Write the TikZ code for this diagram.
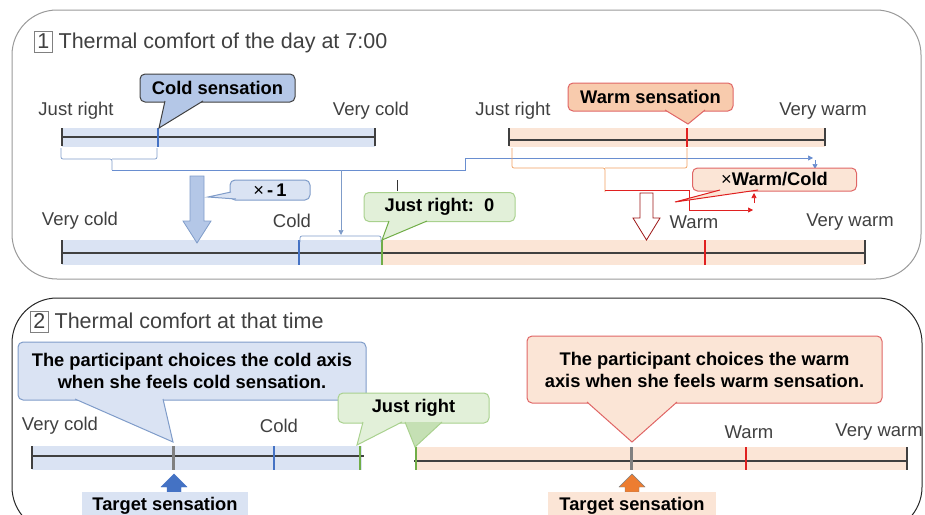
\documentclass[tikz,border=0pt]{standalone}
\usepackage{fontspec}
\setmainfont{Liberation Sans}
\usepackage{xcolor}
\usetikzlibrary{arrows.meta}

\definecolor{coldfill}{HTML}{DAE3F3}
\definecolor{colddark}{HTML}{B4C7E7}
\definecolor{coldline}{HTML}{4472C4}
\definecolor{coldedge}{HTML}{7F9CC9}
\definecolor{warmfill}{HTML}{FBE5D6}
\definecolor{warmdark}{HTML}{F8CBAD}
\definecolor{warmline}{HTML}{E02020}
\definecolor{warmedge}{HTML}{E06666}
\definecolor{braceorange}{HTML}{F0A060}
\definecolor{okfill}{HTML}{E2F0D9}
\definecolor{okdark}{HTML}{C5E0B4}
\definecolor{okline}{HTML}{70AD47}
\definecolor{okedge}{HTML}{A9D18E}
\definecolor{txtgray}{HTML}{404040}
\definecolor{arroworange}{HTML}{ED7D31}

\newcommand{\numbox}[1]{{\setlength{\fboxsep}{0.8pt}\setlength{\fboxrule}{0.7pt}\fcolorbox{black!50}{white}{\makebox[0.72em]{\rule[-0.12em]{0pt}{0.86em}#1}}}}

\tikzset{
  lbl/.style={font=\fontsize{18.5}{21}\selectfont, text=txtgray, inner sep=0pt},
  titlelbl/.style={font=\fontsize{21.5}{24}\selectfont, text=txtgray, inner sep=0pt},
  callbox/.style={rounded corners=5pt, line width=1pt, inner sep=0pt, align=center,
    font=\fontsize{18.3}{22}\selectfont\bfseries, text=black},
  axis/.style={line width=1.2pt, draw=black!75},
  tickmark/.style={line width=2.2pt},
  thinln/.style={line width=0.7pt},
  tinyarrow/.style={-{Triangle[length=5pt,width=5pt]}},
}

% pointer of a callout: fill, edge colour, base, base, tip
\newcommand{\pointer}[5]{%
  \fill[#1] #3 -- #5 -- #4 -- cycle;
  \draw[#2, line width=1pt] #3 -- #5 -- #4;}

\begin{document}
\begin{tikzpicture}[x=1pt,y=-1pt]
\useasboundingbox (0,0) rectangle (925,514);

% ---------- panel 1 ----------
\draw[black!40, line width=1pt, rounded corners=45pt] (12,10) rectangle (921,279);
\node[titlelbl, anchor=west] (title1) at (34,42) {\numbox{1} Thermal comfort of the day at 7:00};

% cold axis (top)
\fill[coldfill] (62,128) rectangle (375,147);
\draw[axis] (62,137) -- (375,137);
\foreach \x in {62,375} \draw[axis] (\x,128) -- (\x,146);
\draw[tickmark, coldline] (158,128) -- (158,147);
\node[lbl] (jr1) at (76,111) {Just right};
\node[lbl] (vc1) at (371,111) {Very cold};

% warm axis (top)
\fill[warmfill] (509,128) rectangle (825,147);
\draw[axis] (509,140) -- (825,140);
\foreach \x in {509,825} \draw[axis] (\x,128) -- (\x,146);
\draw[tickmark, warmline] (687,128) -- (687,147);
\node[lbl] (jr2) at (513,111) {Just right};
\node[lbl] (vw1) at (823,111) {Very warm};

% combined axis (bottom)
\fill[coldfill] (62,240) rectangle (382,265);
\fill[warmfill] (382,240) rectangle (865,265);
\draw[axis] (62,253) -- (865,253);
\foreach \x in {62,865} \draw[axis] (\x,240) -- (\x,264);
\draw[tickmark, coldline] (299,240) -- (299,265);
\draw[tickmark, okline] (382,240) -- (382,265);
\draw[tickmark, warmline] (705,240) -- (705,265);
\node[lbl] (vc2) at (80,221) {Very cold};
\node[lbl] (c2) at (292,221) {Cold};
\node[lbl] (w2) at (694,222) {Warm};
\node[lbl] (vw2) at (850,222) {Very warm};

% braces and guide lines
\draw[thinln, coldedge, rounded corners=2pt] (61,148) |- (112,159) -- (112,170);
\draw[thinln, coldedge, rounded corners=2pt] (157,148) |- (112,159);
\coordinate (bend1) at (112,170);
\coordinate (bend2) at (465,170);
\coordinate (bend3) at (465,158);
\coordinate (end1) at (813,158);
\draw[thinln, coldline!80, tinyarrow] (bend1) -- (bend2) -- (bend3) -- (end1);
\draw[thinln, coldline!80, tinyarrow] (815,160) -- (815,169);
\draw[thinln, coldedge, tinyarrow] (341,170) -- (341,235);
\draw[thinln, coldedge, rounded corners=2pt] (300,242) |- (381,236) -- (381,242);
\draw[thin, black!80] (397,180) -- (397,191);

\draw[thinln, braceorange, rounded corners=2pt] (512,148) |- (605,168) -- (605,192);
\draw[thinln, braceorange, rounded corners=2pt] (687,148) |- (605,168);
\draw[thinln, warmline] (605,190) -- (689,190) -- (689,210);
\draw[thinln, warmline, tinyarrow] (689,210) -- (753,210);
\draw[thinln, warmline, tinyarrow] (754,203) -- (754,193);

% block arrows
\draw[fill=colddark, draw=coldedge, line width=0.8pt]
  (190,176) -- (204,176) -- (204,221) -- (211,221) -- (197,243) -- (183,221) -- (190,221) -- cycle;
\draw[fill=white, draw=warmline!70!black, line width=0.8pt]
  (640,193) -- (653,193) -- (653,218) -- (660,218) -- (646.5,240) -- (633,218) -- (640,218) -- cycle;

% callouts
\node[callbox, fill=colddark, draw=black!75, minimum width=155, minimum height=28] (coldsens) at (217.5,88) {Cold sensation};
\pointer{colddark}{black!75}{(165,101)}{(203,101)}{(159,128)}

\node[callbox, fill=warmdark, draw=warmedge, minimum width=165, minimum height=28] (warmsens) at (650.5,97) {Warm sensation};
\pointer{warmdark}{warmedge}{(665,110)}{(705,110)}{(688,124)}

\node[callbox, fill=coldfill, draw=coldedge, minimum width=80, minimum height=20] (minus1) at (270,190) {{\mdseries ×}\,-\,1};
\pointer{coldfill}{coldedge}{(231,192)}{(236,199)}{(208,197)}

\node[callbox, fill=warmfill, draw=warmedge, minimum width=164, minimum height=23] (ratio) at (774.5,179.5) {{\mdseries ×}Warm/Cold};
\pointer{warmfill}{warmline}{(720,190)}{(758,190)}{(675,202)}

\node[callbox, fill=okfill, draw=okedge, minimum width=151, minimum height=29] (zero) at (439.5,207) {Just right:\ \ 0};
\pointer{okfill}{okline}{(389,221)}{(427,221)}{(382,240)}

% ---------- panel 2 ----------
\draw[black!85, line width=1pt, rounded corners=45pt] (12,298) rectangle (922,532);
\node[titlelbl, anchor=west] (title2) at (30,322) {\numbox{2} Thermal comfort at that time};

% cold axis
\fill[coldfill] (32,446) rectangle (362,470);
\draw[axis] (32,456) -- (364,456);
\draw[axis] (32,446) -- (32,469);
\draw[tickmark, black!50, line width=3pt] (173,446) -- (173,470);
\draw[tickmark, coldline] (274,446) -- (274,470);
\draw[tickmark, okline] (360,446) -- (360,470);
\node[lbl] (vc3) at (60,426) {Very cold};
\node[lbl] (c3) at (279,426) {Cold};

% warm axis
\fill[warmfill] (415,447) rectangle (907,470);
\draw[axis] (414,461) -- (907,461);
\draw[axis] (907,447) -- (907,470);
\draw[tickmark, okline] (416,447) -- (416,470);
\draw[tickmark, black!50, line width=3pt] (631,447) -- (631,470);
\draw[tickmark, warmline] (746,447) -- (746,470);
\node[lbl] (w3) at (749,432) {Warm};
\node[lbl, anchor=east] (vw3) at (923,432) {Very warm};

% callouts
\node[callbox, fill=coldfill, draw=coldedge, minimum width=348, minimum height=58] (coldaxis) at (192,371)
  {The participant choices the cold axis\\ when she feels cold sensation.};
\pointer{coldfill}{coldedge}{(75,399)}{(163,399)}{(173,442)}

\node[callbox, fill=warmfill, draw=warmedge, minimum width=355, minimum height=67] (warmaxis) at (704.5,369.5)
  {The participant choices the warm\\ axis when she feels warm sensation.};
\pointer{warmfill}{warmedge}{(587,402)}{(677,402)}{(632,442)}

\node[callbox, fill=okfill, draw=okedge, minimum width=151, minimum height=30] (jrbox) at (413.5,408) {Just right};
\pointer{okfill}{okedge}{(363,422)}{(402,422)}{(357,445)}
\pointer{okdark}{okedge}{(405,422)}{(442,422)}{(415,447)}

% target sensation
\draw[fill=coldline, draw=coldline] (167,492) -- (167,487) -- (161,487) -- (174,474) -- (187,487) -- (181,487) -- (181,492) -- cycle;
\draw[fill=arroworange, draw=black!50] (625,492) -- (625,487) -- (619,487) -- (632,474) -- (645,487) -- (639,487) -- (639,492) -- cycle;
\node[callbox, rounded corners=0pt, fill=coldfill, minimum width=166, minimum height=28, anchor=north] (tgcold) at (165,491) {Target sensation};
\node[callbox, rounded corners=0pt, fill=warmfill, minimum width=168, minimum height=28, anchor=north] (tgwarm) at (632,491) {Target sensation};
\end{tikzpicture}
\end{document}
